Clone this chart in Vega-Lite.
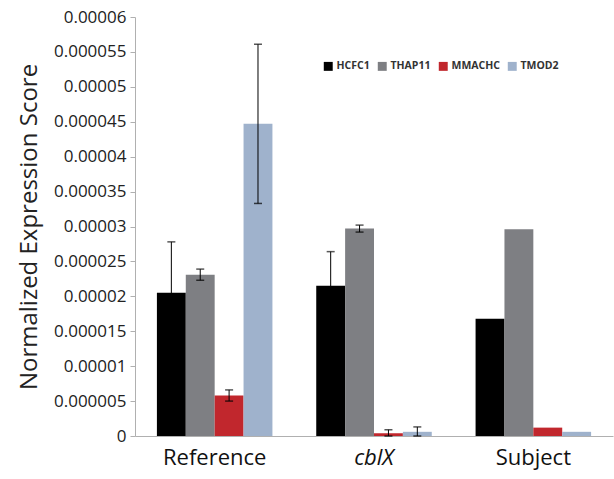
{
  "$schema": "https://vega.github.io/schema/vega-lite/v6.json",
  "width": 478,
  "height": 419,
  "autosize": {"type": "none"},
  "padding": {"left": 135, "top": 17, "right": 1, "bottom": 43},
  "background": "white",
  "config": {
    "view": {"stroke": null},
    "font": "Open Sans"
  },
  "data": {
    "values": [
      {"group": "Reference", "gene": "HCFC1", "value": 0.0000205, "lo": 0.0000132, "hi": 0.0000278},
      {"group": "Reference", "gene": "THAP11", "value": 0.0000231, "lo": 0.0000223, "hi": 0.0000239},
      {"group": "Reference", "gene": "MMACHC", "value": 0.0000058, "lo": 0.000005, "hi": 0.0000066},
      {"group": "Reference", "gene": "TMOD2", "value": 0.0000447, "lo": 0.0000333, "hi": 0.0000561},
      {"group": "cblX", "gene": "HCFC1", "value": 0.0000215, "lo": 0.0000166, "hi": 0.0000264},
      {"group": "cblX", "gene": "THAP11", "value": 0.0000297, "lo": 0.0000292, "hi": 0.0000302},
      {"group": "cblX", "gene": "MMACHC", "value": 0.0000004, "lo": 0.0000000, "hi": 0.0000009},
      {"group": "cblX", "gene": "TMOD2", "value": 0.0000006, "lo": 0.0000000, "hi": 0.0000013},
      {"group": "Subject", "gene": "HCFC1", "value": 0.0000168, "lo": null, "hi": null},
      {"group": "Subject", "gene": "THAP11", "value": 0.0000296, "lo": null, "hi": null},
      {"group": "Subject", "gene": "MMACHC", "value": 0.0000012, "lo": null, "hi": null},
      {"group": "Subject", "gene": "TMOD2", "value": 0.0000006, "lo": null, "hi": null}
    ]
  },
  "encoding": {
    "x": {
      "field": "group",
      "type": "nominal",
      "sort": ["Reference", "cblX", "Subject"],
      "scale": {"paddingInner": 0.275, "paddingOuter": 0.1375},
      "axis": {
        "title": null,
        "labelAngle": 0,
        "labelFontSize": 22,
        "labelColor": "#111",
        "labelPadding": 11,
        "ticks": false,
        "domainColor": "#b0b0b0",
        "labelFontStyle": {"condition": {"test": "datum.value == 'cblX'", "value": "italic"}, "value": "normal"}
      }
    },
    "xOffset": {
      "field": "gene",
      "type": "nominal",
      "sort": ["HCFC1", "THAP11", "MMACHC", "TMOD2"],
      "scale": {"paddingInner": 0, "paddingOuter": 0}
    }
  },
  "layer": [
    {
      "mark": {"type": "bar"},
      "encoding": {
        "y": {
          "field": "value",
          "type": "quantitative",
          "scale": {"domain": [0, 0.00006], "nice": false},
          "axis": {
            "title": "Normalized Expression Score",
            "titleFontSize": 24,
            "titleFontWeight": "normal",
            "titleColor": "#222",
            "titlePadding": 12,
            "values": [0, 0.000005, 0.00001, 0.000015, 0.00002, 0.000025, 0.00003, 0.000035, 0.00004, 0.000045, 0.00005, 0.000055, 0.00006],
            "format": "~f",
            "labelOverlap": false,
            "labelFontSize": 17,
            "labelColor": "#222",
            "labelPadding": 4,
            "grid": false,
            "domainColor": "#b0b0b0",
            "tickColor": "#b0b0b0",
            "tickSize": 5
          }
        },
        "color": {
          "field": "gene",
          "type": "nominal",
          "sort": ["HCFC1", "THAP11", "MMACHC", "TMOD2"],
          "scale": {"domain": ["HCFC1", "THAP11", "MMACHC", "TMOD2"], "range": ["#000000", "#7e7f83", "#c1272d", "#9fb2cc"]},
          "legend": {
            "title": null,
            "orient": "none",
            "direction": "horizontal",
            "legendX": 188,
            "legendY": 44,
            "symbolType": "square",
            "symbolSize": 80,
            "symbolStrokeWidth": 0,
            "labelFontSize": 10.5,
            "labelFontWeight": "bold",
            "labelColor": "#333",
            "labelOffset": 3,
            "columnPadding": 7
          }
        }
      }
    },
    {
      "transform": [{"filter": "datum.hi != null"}],
      "mark": {"type": "rule", "color": "#000", "strokeWidth": 1},
      "encoding": {
        "y": {
          "field": "lo",
          "type": "quantitative",
          "axis": {
            "title": "Normalized Expression Score",
            "titleFontSize": 24,
            "titleFontWeight": "normal",
            "titleColor": "#222",
            "titlePadding": 12,
            "values": [0, 0.000005, 0.00001, 0.000015, 0.00002, 0.000025, 0.00003, 0.000035, 0.00004, 0.000045, 0.00005, 0.000055, 0.00006],
            "format": "~f",
            "labelOverlap": false,
            "labelFontSize": 17,
            "labelColor": "#222",
            "labelPadding": 4,
            "grid": false,
            "domainColor": "#b0b0b0",
            "tickColor": "#b0b0b0",
            "tickSize": 5
          }
        },
        "y2": {"field": "hi"}
      }
    },
    {
      "transform": [{"filter": "datum.hi != null"}],
      "mark": {"type": "tick", "color": "#111", "size": 8, "thickness": 1.5},
      "encoding": {
        "y": {
          "field": "hi",
          "type": "quantitative",
          "axis": {
            "title": "Normalized Expression Score",
            "titleFontSize": 24,
            "titleFontWeight": "normal",
            "titleColor": "#222",
            "titlePadding": 12,
            "values": [0, 0.000005, 0.00001, 0.000015, 0.00002, 0.000025, 0.00003, 0.000035, 0.00004, 0.000045, 0.00005, 0.000055, 0.00006],
            "format": "~f",
            "labelOverlap": false,
            "labelFontSize": 17,
            "labelColor": "#222",
            "labelPadding": 4,
            "grid": false,
            "domainColor": "#b0b0b0",
            "tickColor": "#b0b0b0",
            "tickSize": 5
          }
        }
      }
    },
    {
      "transform": [{"filter": "datum.hi != null"}],
      "mark": {"type": "tick", "color": "#000", "size": 8, "thickness": 1.5},
      "encoding": {
        "y": {
          "field": "lo",
          "type": "quantitative",
          "axis": {
            "title": "Normalized Expression Score",
            "titleFontSize": 24,
            "titleFontWeight": "normal",
            "titleColor": "#222",
            "titlePadding": 12,
            "values": [0, 0.000005, 0.00001, 0.000015, 0.00002, 0.000025, 0.00003, 0.000035, 0.00004, 0.000045, 0.00005, 0.000055, 0.00006],
            "format": "~f",
            "labelOverlap": false,
            "labelFontSize": 17,
            "labelColor": "#222",
            "labelPadding": 4,
            "grid": false,
            "domainColor": "#b0b0b0",
            "tickColor": "#b0b0b0",
            "tickSize": 5
          }
        }
      }
    }
  ]
}
